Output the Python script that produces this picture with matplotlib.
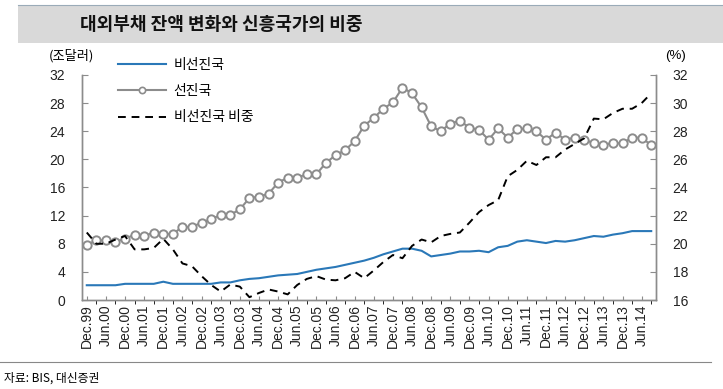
"""
대외부채 잔액 변화와 신흥국가의 비중 - BIS quarterly data, Dec.99 ~ Sep.14
"""
import matplotlib
matplotlib.use('Agg')
import matplotlib.pyplot as plt
from matplotlib.patches import Rectangle
from matplotlib.lines import Line2D
import numpy as np

# ============================================================================
# DATA
# ============================================================================
QUARTERS = [f'{m}.{y:02d}' for y in range(0, 15) for m in ('Mar', 'Jun', 'Sep', 'Dec')]
QUARTERS = ['Dec.99'] + QUARTERS[:59]

# 비선진국 (조달러)
emerging = [2.1, 2.1, 2.1, 2.1, 2.3, 2.3, 2.3, 2.3, 2.6, 2.3,
            2.3, 2.3, 2.3, 2.3, 2.5, 2.5, 2.8, 3.0, 3.1, 3.3,
            3.5, 3.6, 3.7, 4.0, 4.3, 4.5, 4.7, 5.0, 5.3, 5.6,
            6.0, 6.5, 6.9, 7.3, 7.3, 7.0, 6.2, 6.4, 6.6, 6.9,
            6.9, 7.0, 6.8, 7.5, 7.7, 8.3, 8.5, 8.3, 8.1, 8.4,
            8.3, 8.5, 8.8, 9.1, 9.0, 9.3, 9.5, 9.8, 9.8, 9.8]

# 선진국 (조달러)
advanced = [7.8, 8.5, 8.5, 8.3, 8.7, 9.3, 9.1, 9.6, 9.4, 9.4,
            10.4, 10.4, 11.0, 11.5, 12.1, 12.1, 12.9, 14.5, 14.7, 15.1,
            16.7, 17.4, 17.4, 17.9, 17.9, 19.5, 20.6, 21.3, 22.6, 24.8,
            25.9, 27.2, 28.1, 30.2, 29.4, 27.4, 24.7, 24.0, 25.1, 25.5,
            24.5, 24.2, 22.8, 24.4, 23.1, 24.3, 24.4, 24.0, 22.8, 23.8,
            22.8, 23.1, 22.8, 22.3, 22.1, 22.3, 22.3, 23.1, 23.1, 22.0]

# 비선진국 비중 (%)
share = [20.8, 20.0, 20.0, 20.3, 20.55, 19.6, 19.6, 19.7, 20.35, 19.6,
         18.6, 18.4, 17.7, 17.07, 16.6, 17.1, 16.95, 16.2, 16.5, 16.75,
         16.6, 16.4, 17.07, 17.5, 17.7, 17.45, 17.4, 17.55, 18.0, 17.55,
         18.1, 18.7, 19.2, 18.97, 19.85, 20.3, 20.1, 20.55, 20.7, 20.8,
         21.5, 22.25, 22.75, 23.1, 24.8, 25.25, 25.9, 25.6, 26.15, 26.15,
         26.7, 27.1, 27.5, 28.9, 28.85, 29.3, 29.6, 29.6, 30.0, 30.7]

LEFT_TICKS = [0, 4, 8, 12, 16, 20, 24, 28, 32]
RIGHT_TICKS = [16, 18, 20, 22, 24, 26, 28, 30, 32]

KR = ['Noto Sans CJK KR', 'DejaVu Sans']
LAT = ['Liberation Sans', 'DejaVu Sans']

W, H = 723, 389


def px(x, y):
    """pixel position (from top-left) -> figure fraction"""
    return x / W, 1 - y / H


fig = plt.figure(figsize=(W / 100, H / 100), dpi=100)

# title band
fig.patches.append(Rectangle(px(18, 43), (W - 18) / W, 38 / H, transform=fig.transFigure,
                             facecolor='#d9d9d9', edgecolor='none', zorder=0))
fig.add_artist(Line2D([18 / W, 1], [1 - 5 / H] * 2, transform=fig.transFigure,
                      color='#9aabb8', lw=0.8))
fig.text(*px(80, 24), '대외부채 잔액 변화와 신흥국가의 비중', family=KR, fontsize=13,
         fontweight='bold', va='center', ha='left', color='#111111')

# bottom rule + source
fig.add_artist(Line2D([0, 711 / W], [1 - 362 / H] * 2, transform=fig.transFigure,
                      color='#888888', lw=0.8))
fig.text(*px(4, 378), '자료: BIS, 대신증권', family=KR, fontsize=8.5, va='center', ha='left')

# axes
x0, x1, y0, y1 = 82, 656, 75, 300
ax = fig.add_axes([x0 / W, 1 - y1 / H, (x1 - x0) / W, (y1 - y0) / H])
ax2 = ax.twinx()

x = np.arange(len(QUARTERS))
l1, = ax.plot(x, emerging, color='#2a78b8', lw=1.5, label='비선진국', zorder=3)
l2, = ax.plot(x, advanced, color='#8c8c8c', lw=1.5, marker='o', ms=6, mfc='white',
              mec='#8c8c8c', mew=1.4, label='선진국', zorder=4)
l3, = ax2.plot(x, share, color='black', lw=1.4, ls=(0, (4, 3)), label='비선진국 비중')

ax.set_xlim(-0.5, len(QUARTERS) - 0.5)
ax.set_ylim(0, 32)
ax2.set_ylim(16, 32)
ax.set_yticks(LEFT_TICKS)
ax2.set_yticks(RIGHT_TICKS)

ax.set_xticks(x, minor=True)
ax.set_xticks(x[::2])
ax.set_xticklabels(QUARTERS[::2], rotation=90, family=LAT, fontsize=10, color='#222222')
for lab in ax.get_yticklabels() + ax2.get_yticklabels():
    lab.set_family(LAT)
    lab.set_fontsize(10)
    lab.set_color('#222222')

for a in (ax, ax2):
    a.spines['top'].set_visible(False)
    for s in ('left', 'right', 'bottom'):
        a.spines[s].set_color('#8c8c8c')
        a.spines[s].set_linewidth(1.0)
    a.tick_params(direction='in', color='#8c8c8c')
ax.tick_params(axis='x', which='both', length=3, pad=3)
ax.tick_params(axis='y', length=4, pad=12)
ax2.tick_params(axis='y', length=4, pad=12)

fig.text(*px(71, 56), '(조달러)', family=KR, fontsize=9.5, ha='center', va='center')
fig.text(*px(676, 56), '(%)', family=LAT, fontsize=9.5, ha='center', va='center')

# legend: smaller single marker on the 선진국 handle
h2 = Line2D([], [], color='#8c8c8c', lw=1.5, marker='o', ms=4.5, mfc='white',
            mec='#8c8c8c', mew=1.2)
leg = fig.legend(handles=[l1, h2, l3], labels=['비선진국', '선진국', '비선진국 비중'],
                 loc='upper left', bbox_to_anchor=px(105, 45), markerfirst=True,
                 frameon=False, handlelength=3.5, handletextpad=0.55, labelspacing=0.9,
                 numpoints=1, prop={'family': KR, 'size': 10})

fig.savefig('out.png', dpi=100)
